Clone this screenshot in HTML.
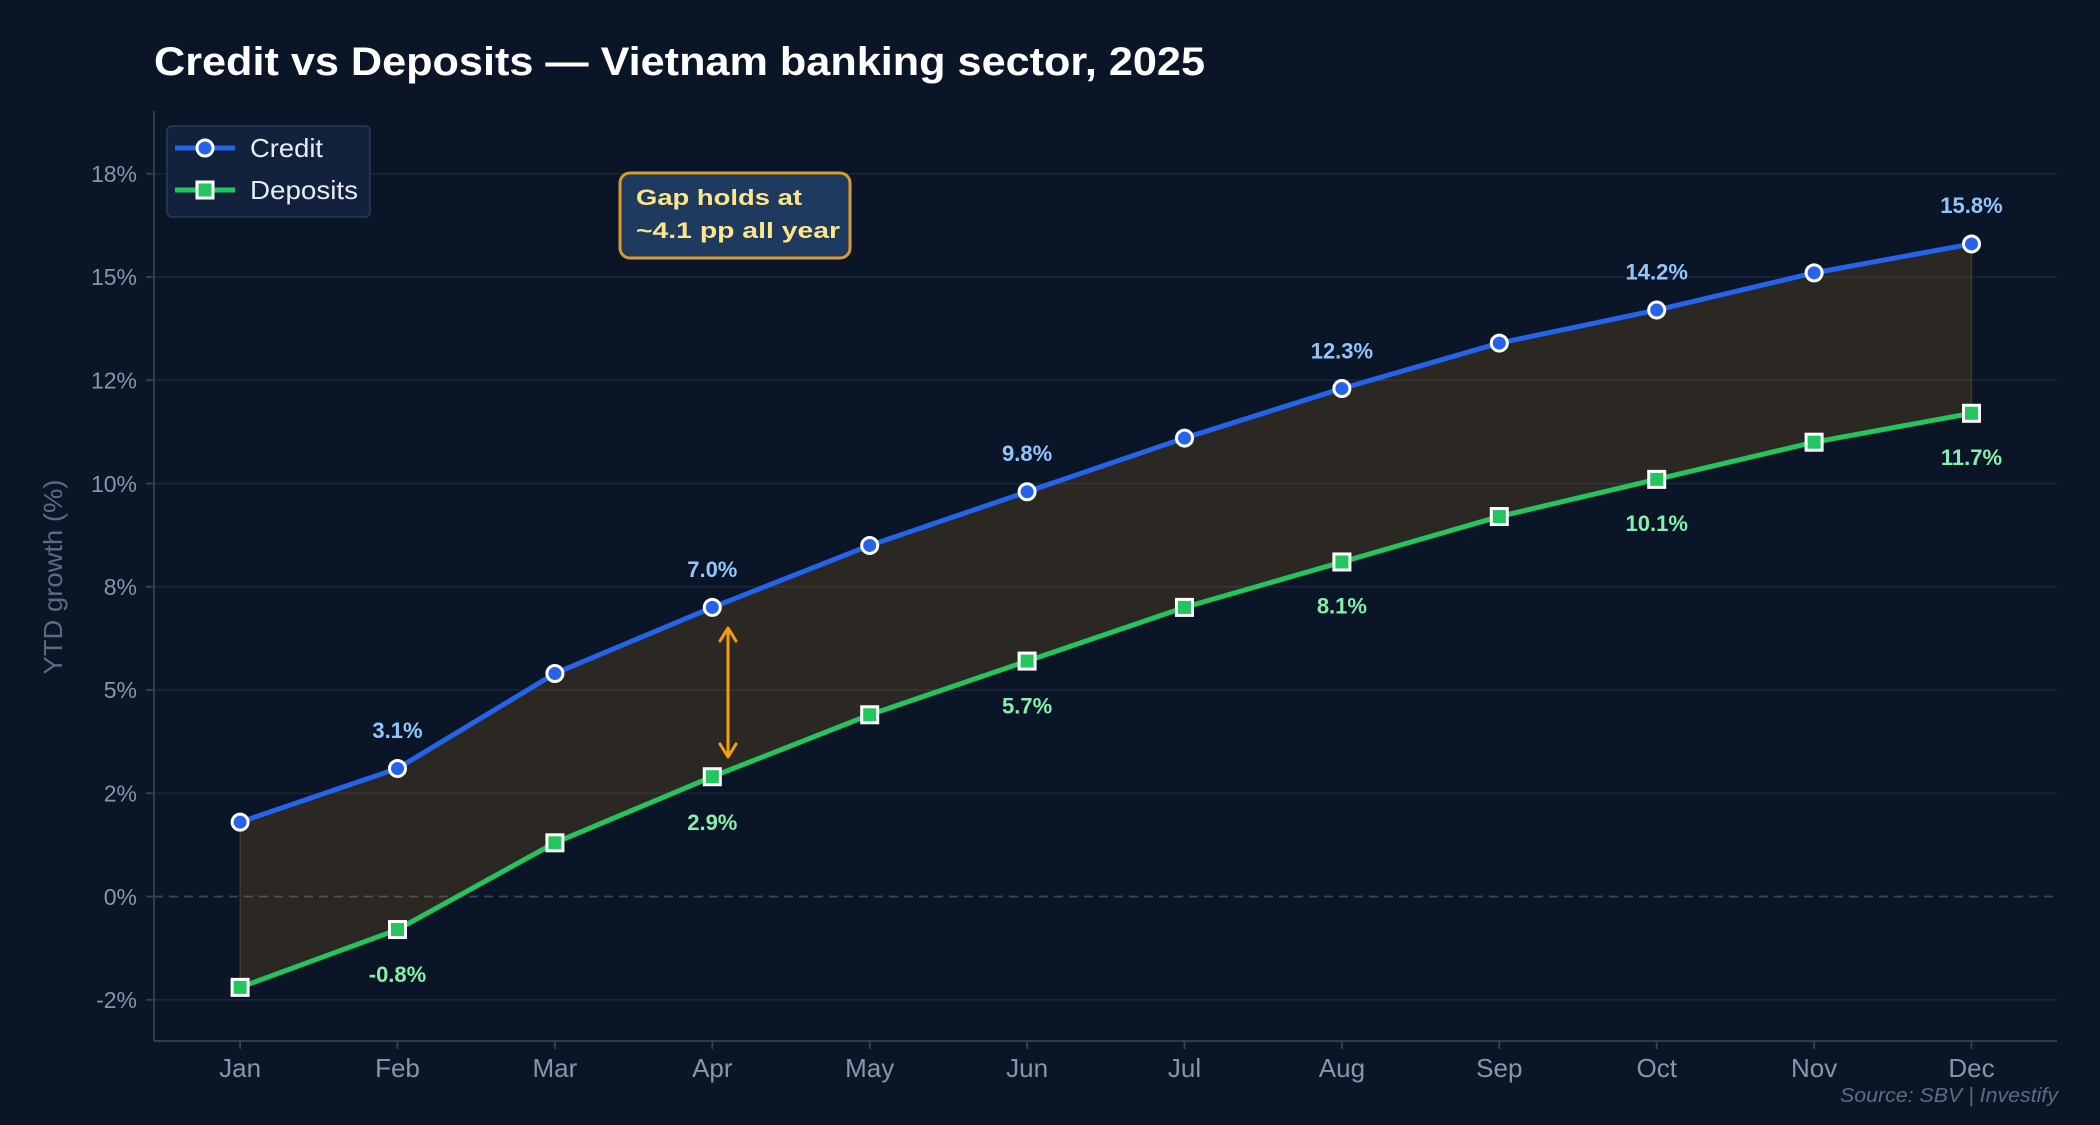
<!DOCTYPE html>
<html>
<head>
<meta charset="utf-8">
<style>
html,body{margin:0;padding:0;background:#0a1628;}
svg{display:block;}
text{font-family:"Liberation Sans","DejaVu Sans",sans-serif;}
</style>
</head>
<body>
<svg width="2100" height="1125" viewBox="0 0 2100 1125" xmlns="http://www.w3.org/2000/svg">
<rect x="0" y="0" width="2100" height="1125" fill="#0a1628"/>

<!-- gridlines -->
<g stroke="#1a2637" stroke-width="1.5">
<line x1="154" y1="173.75" x2="2057" y2="173.75"/>
<line x1="154" y1="277" x2="2057" y2="277"/>
<line x1="154" y1="380.25" x2="2057" y2="380.25"/>
<line x1="154" y1="483.5" x2="2057" y2="483.5"/>
<line x1="154" y1="586.75" x2="2057" y2="586.75"/>
<line x1="154" y1="690" x2="2057" y2="690"/>
<line x1="154" y1="793.25" x2="2057" y2="793.25"/>
<line x1="154" y1="999.75" x2="2057" y2="999.75"/>
</g>
<!-- zero line -->
<line x1="154" y1="896.5" x2="2057" y2="896.5" stroke="#3a4556" stroke-width="1.8" stroke-dasharray="9,6"/>

<!-- fill between -->
<polygon fill="rgba(245,158,11,0.14)" stroke="rgba(245,158,11,0.18)" stroke-width="1.5"
points="240.1,822.16 397.5,768.47 554.9,673.48 712.3,607.4 869.7,545.45 1027.1,491.76 1184.5,438.07 1341.9,388.51 1499.3,343.08 1656.7,310.04 1814.1,272.87 1971.5,243.96 1971.5,413.29 1814.1,442.2 1656.7,479.37 1499.3,516.54 1341.9,561.97 1184.5,607.4 1027.1,661.09 869.7,714.78 712.3,776.73 554.9,842.81 397.5,929.54 240.1,987.36"/>

<!-- axes spines -->
<line x1="154" y1="111" x2="154" y2="1041" stroke="#334155" stroke-width="1.8"/>
<line x1="154" y1="1041" x2="2057" y2="1041" stroke="#334155" stroke-width="1.8"/>

<!-- y ticks -->
<g stroke="#334155" stroke-width="1.8">
<line x1="146" y1="173.75" x2="154" y2="173.75"/>
<line x1="146" y1="277" x2="154" y2="277"/>
<line x1="146" y1="380.25" x2="154" y2="380.25"/>
<line x1="146" y1="483.5" x2="154" y2="483.5"/>
<line x1="146" y1="586.75" x2="154" y2="586.75"/>
<line x1="146" y1="690" x2="154" y2="690"/>
<line x1="146" y1="793.25" x2="154" y2="793.25"/>
<line x1="146" y1="896.5" x2="154" y2="896.5"/>
<line x1="146" y1="999.75" x2="154" y2="999.75"/>
</g>
<g fill="#8795aa" font-size="23" text-anchor="end">
<text x="137" y="182">18%</text>
<text x="137" y="285">15%</text>
<text x="137" y="388.5">12%</text>
<text x="137" y="492">10%</text>
<text x="137" y="595">8%</text>
<text x="137" y="698">5%</text>
<text x="137" y="801.5">2%</text>
<text x="137" y="905">0%</text>
<text x="137" y="1008">-2%</text>
</g>

<!-- x ticks -->
<g stroke="#334155" stroke-width="1.8">
<line x1="240.1" y1="1041" x2="240.1" y2="1049"/>
<line x1="397.5" y1="1041" x2="397.5" y2="1049"/>
<line x1="554.9" y1="1041" x2="554.9" y2="1049"/>
<line x1="712.3" y1="1041" x2="712.3" y2="1049"/>
<line x1="869.7" y1="1041" x2="869.7" y2="1049"/>
<line x1="1027.1" y1="1041" x2="1027.1" y2="1049"/>
<line x1="1184.5" y1="1041" x2="1184.5" y2="1049"/>
<line x1="1341.9" y1="1041" x2="1341.9" y2="1049"/>
<line x1="1499.3" y1="1041" x2="1499.3" y2="1049"/>
<line x1="1656.7" y1="1041" x2="1656.7" y2="1049"/>
<line x1="1814.1" y1="1041" x2="1814.1" y2="1049"/>
<line x1="1971.5" y1="1041" x2="1971.5" y2="1049"/>
</g>
<g fill="#8795aa" font-size="26" text-anchor="middle">
<text x="240.1" y="1077">Jan</text>
<text x="397.5" y="1077">Feb</text>
<text x="554.9" y="1077">Mar</text>
<text x="712.3" y="1077">Apr</text>
<text x="869.7" y="1077">May</text>
<text x="1027.1" y="1077">Jun</text>
<text x="1184.5" y="1077">Jul</text>
<text x="1341.9" y="1077">Aug</text>
<text x="1499.3" y="1077">Sep</text>
<text x="1656.7" y="1077">Oct</text>
<text x="1814.1" y="1077">Nov</text>
<text x="1971.5" y="1077">Dec</text>
</g>

<!-- y label -->
<text transform="translate(62,577) rotate(-90)" fill="#5d6b80" font-size="26" text-anchor="middle" textLength="195" lengthAdjust="spacingAndGlyphs">YTD growth (%)</text>

<!-- credit line -->
<polyline fill="none" stroke="#2563eb" stroke-width="5" stroke-linejoin="round" stroke-linecap="round"
points="240.1,822.16 397.5,768.47 554.9,673.48 712.3,607.4 869.7,545.45 1027.1,491.76 1184.5,438.07 1341.9,388.51 1499.3,343.08 1656.7,310.04 1814.1,272.87 1971.5,243.96"/>
<!-- deposits line -->
<polyline fill="none" stroke="#22c55e" stroke-width="5" stroke-linejoin="round" stroke-linecap="round"
points="240.1,987.36 397.5,929.54 554.9,842.81 712.3,776.73 869.7,714.78 1027.1,661.09 1184.5,607.4 1341.9,561.97 1499.3,516.54 1656.7,479.37 1814.1,442.2 1971.5,413.29"/>

<!-- arrow -->
<g stroke="#f59e0b" stroke-width="3" fill="none" stroke-linecap="round" stroke-linejoin="round">
<line x1="728" y1="629" x2="728" y2="756"/>
<polyline points="720,641 728,628 736,641"/>
<polyline points="720,744 728,757 736,744"/>
</g>

<!-- credit markers -->
<g fill="#2563eb" stroke="#ffffff" stroke-width="3">
<circle cx="240.1" cy="822.16" r="8"/>
<circle cx="397.5" cy="768.47" r="8"/>
<circle cx="554.9" cy="673.48" r="8"/>
<circle cx="712.3" cy="607.4" r="8"/>
<circle cx="869.7" cy="545.45" r="8"/>
<circle cx="1027.1" cy="491.76" r="8"/>
<circle cx="1184.5" cy="438.07" r="8"/>
<circle cx="1341.9" cy="388.51" r="8"/>
<circle cx="1499.3" cy="343.08" r="8"/>
<circle cx="1656.7" cy="310.04" r="8"/>
<circle cx="1814.1" cy="272.87" r="8"/>
<circle cx="1971.5" cy="243.96" r="8"/>
</g>
<!-- deposit markers -->
<g fill="#22c55e" stroke="#ffffff" stroke-width="3">
<rect x="232.1" y="979.36" width="16" height="16"/>
<rect x="389.5" y="921.54" width="16" height="16"/>
<rect x="546.9" y="834.81" width="16" height="16"/>
<rect x="704.3" y="768.73" width="16" height="16"/>
<rect x="861.7" y="706.78" width="16" height="16"/>
<rect x="1019.1" y="653.09" width="16" height="16"/>
<rect x="1176.5" y="599.4" width="16" height="16"/>
<rect x="1333.9" y="553.97" width="16" height="16"/>
<rect x="1491.3" y="508.54" width="16" height="16"/>
<rect x="1648.7" y="471.37" width="16" height="16"/>
<rect x="1806.1" y="434.2" width="16" height="16"/>
<rect x="1963.5" y="405.29" width="16" height="16"/>
</g>

<!-- data labels credit -->
<g fill="#93c5fd" font-size="22" font-weight="bold" text-anchor="middle">
<text x="397.5" y="738">3.1%</text>
<text x="712.3" y="577">7.0%</text>
<text x="1027.1" y="461">9.8%</text>
<text x="1341.9" y="358.5">12.3%</text>
<text x="1656.7" y="279.5">14.2%</text>
<text x="1971.5" y="213">15.8%</text>
</g>
<!-- data labels deposits -->
<g fill="#86efac" font-size="22" font-weight="bold" text-anchor="middle">
<text x="397.5" y="982">-0.8%</text>
<text x="712.3" y="830">2.9%</text>
<text x="1027.1" y="713.5">5.7%</text>
<text x="1341.9" y="613.5">8.1%</text>
<text x="1656.7" y="531">10.1%</text>
<text x="1971.5" y="465">11.7%</text>
</g>

<!-- annotation box -->
<rect x="620" y="173" width="230" height="85" rx="10" ry="10" fill="#1e3a5f" stroke="#dc9a2c" stroke-width="3"/>
<text x="636" y="205" fill="#fde68a" font-size="22" font-weight="bold" textLength="166" lengthAdjust="spacingAndGlyphs">Gap holds at</text>
<text x="636" y="238" fill="#fde68a" font-size="22" font-weight="bold" textLength="204" lengthAdjust="spacingAndGlyphs">~4.1 pp all year</text>

<!-- legend -->
<rect x="167" y="126" width="203" height="91" rx="5" ry="5" fill="#12223d" stroke="#2a3a54" stroke-width="1.5"/>
<line x1="175" y1="148" x2="235" y2="148" stroke="#2563eb" stroke-width="5"/>
<circle cx="205" cy="148" r="8" fill="#2563eb" stroke="#ffffff" stroke-width="3"/>
<line x1="175" y1="190" x2="235" y2="190" stroke="#22c55e" stroke-width="5"/>
<rect x="197" y="182" width="16" height="16" fill="#22c55e" stroke="#ffffff" stroke-width="3"/>
<text x="250" y="157" fill="#e8ecf2" font-size="26" textLength="73" lengthAdjust="spacingAndGlyphs">Credit</text>
<text x="250" y="199" fill="#e8ecf2" font-size="26" textLength="108" lengthAdjust="spacingAndGlyphs">Deposits</text>

<!-- title -->
<text x="154" y="75" fill="#ffffff" font-size="40" font-weight="bold" textLength="1051" lengthAdjust="spacingAndGlyphs">Credit vs Deposits — Vietnam banking sector, 2025</text>

<!-- source -->
<text x="2058" y="1102" fill="#5d6b80" font-size="20" font-style="italic" text-anchor="end" textLength="218" lengthAdjust="spacingAndGlyphs">Source: SBV  |  Investify</text>
</svg>
</body>
</html>
